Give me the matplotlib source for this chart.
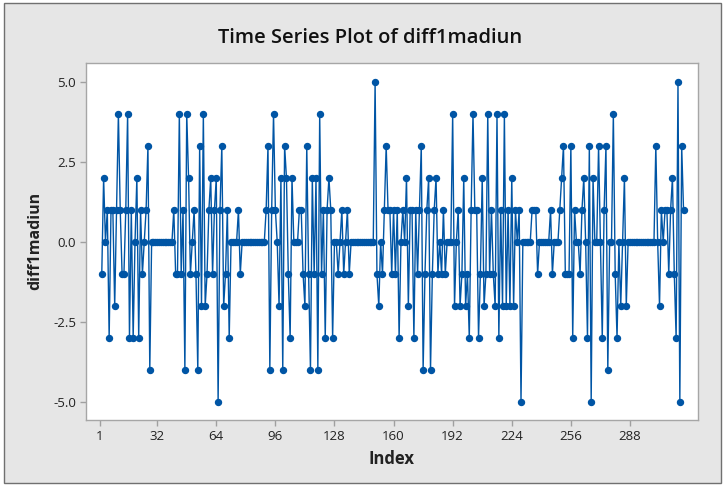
import matplotlib
matplotlib.use("Agg")
import matplotlib.pyplot as plt
from matplotlib.patches import Rectangle

# ---- data (first difference; index 1 is missing) ----
start_index = 2
seg_a = [-1, 2, 0, 1, -3, 1, 1, -2, 1, 4, 1, -1, -1, 1, 4, -3, 1, -3, 0, 2,
         -3, 1, -1, 0, 1, 3, -4,
         0, 0, 0, 0, 0, 0, 0, 0, 0, 0, 0, 0]
seg_b = [1, -1, -1, 4, -1, 1, -4, 4, 2, -1, 0, 1, -1, -4, 3, -2, 4, -2, -1, 1,
         2, -1, 1, 2, -5, 1, 3, -2, -1, 1, -3, 0, 0, 0, 0, 1, -1,
         0, 0, 0, 0, 0, 0, 0, 0, 0, 0, 0, 0, 0]
seg_c = [1, 3, -4, 1, 4, 1, 0, -2, 2, -4, 3, 2, -1, -3, 2, 0, 0, 0, 1, 1,
         -1, -2, 3, -1, -4, 2, -1, 2, -4, 4, -1, 1, -3, 1, 2, 1, -3, 0, 0, -1,
         0, 1, -1, 0, 1, -1,
         0, 0, 0, 0, 0, 0, 0, 0, 0, 0, 0, 0, 0]
seg_d = [5, -1, -2, 0, -1, 1, 3, 1, 1, -1, 1, -1, 1, -3, 0, 1, 0, 2, -2, 1,
         1, -3, 1, -1, 1, 3, -4, -1, 1, 2, -4, -1, 1, 2, -1, 0, -1, 1, -1,
         0, 0, 0]
seg_e = [4, -2, 0, 1, -2, -1, 2, -2, -1, -3, 1, 4, 1, 1, -3, -1, 2, -2, -1, 4,
         -1, 1, -1, -2, 4, -3, 1, -2, 4, -2, 1, -2, 2, -2, 1, 0, 1, -5,
         0, 0, 0, 0, 0]
seg_f = [1, 1, 1, -1, 0, 0, 0, 0, 0, 0, 1, -1, 0, 0, 0, 1, 2, 3, -1, -1,
         -1, 3, -3, 1, 0, 0, -1, 1, 2, 0, -3, 3, -5, 2, 0, 0, 3, 0, -3, 1,
         3, -4, 0, 0, 4, -1, -3, 0, -2, 0, 2, -2,
         0, 0, 0, 0, 0, 0, 0, 0, 0, 0, 0, 0, 0, 0, 0]
seg_g = [3, 0, -2, 1, 0, 1, 1, -1, 1, 2, -1, -3, 5, -5, 3, 1]

values = seg_a + seg_b + seg_c + seg_d + seg_e + seg_f + seg_g
index = list(range(start_index, start_index + len(values)))

x_ticks = [1, 32, 64, 96, 128, 160, 192, 224, 256, 288]
y_ticks = [-5.0, -2.5, 0.0, 2.5, 5.0]
y_tick_labels = ["-5.0", "-2.5", "0.0", "2.5", "5.0"]

title = "Time Series Plot of diff1madiun"
x_label = "Index"
y_label = "diff1madiun"

# ---- style ----
plt.rcParams["font.family"] = ["Open Sans", "DejaVu Sans"]
W, H = 724, 486
fig = plt.figure(figsize=(W / 100, H / 100), dpi=100, facecolor="white")
bg = Rectangle((4 / W, 3 / H), 717 / W, 480 / H,
               transform=fig.transFigure, facecolor="#e6e6e6",
               edgecolor="#707070", lw=1.0, zorder=-10)
fig.add_artist(bg)

ax = fig.add_axes([85.7 / W, 1 - 420 / H, (698.3 - 85.7) / W, (420 - 62.7) / H])
ax.set_zorder(5)
ax.set_facecolor("white")
blue = "#0055a5"
ax.plot(index, values, color=blue, lw=1.0, marker="o", ms=4.3,
        mfc=blue, mec=blue, zorder=3)

ax.set_xlim(-6.7, 325.0)
ax.set_ylim(-5.55, 5.59)
ax.set_xticks(x_ticks)
ax.set_yticks(y_ticks)
ax.set_yticklabels(y_tick_labels)
for s in ax.spines.values():
    s.set_color("#a6a6a6")
    s.set_linewidth(1.0)
ax.tick_params(direction="out", length=4, width=1, color="#a0a0a0",
               labelsize=9.5, labelcolor="#222222", pad=3)

t1 = fig.text(370 / W, 1 - 38 / H, title, ha="center", va="center",
              fontsize=14.5, fontweight="semibold", color="#111111")
t2 = fig.text(391 / W, 1 - 459 / H, x_label, ha="center", va="center",
              fontsize=12, fontweight="bold", color="#222222")
t3 = fig.text(35 / W, 1 - 241 / H, y_label, ha="center", va="center",
              rotation=90, fontsize=11.5, fontweight="bold", color="#222222")
for t in (t1, t2, t3):
    t.set_zorder(6)

fig.savefig("out.png", dpi=100, facecolor=fig.get_facecolor())
